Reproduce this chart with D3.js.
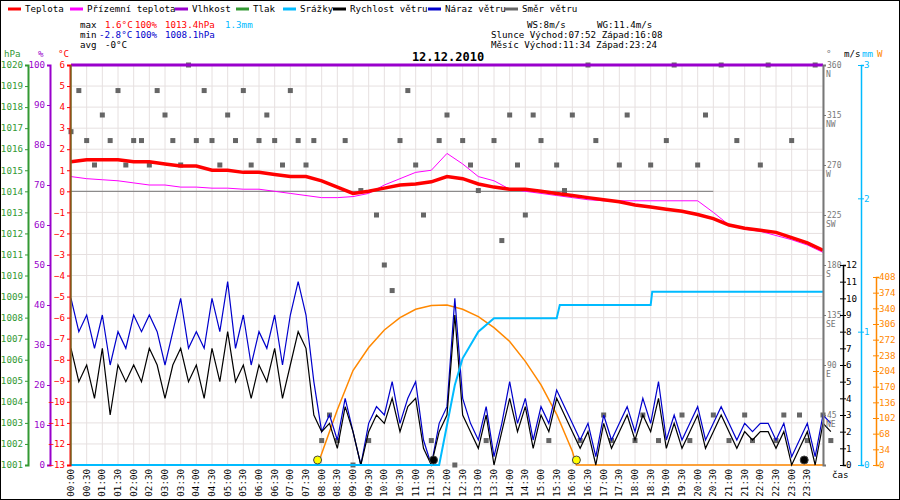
<!DOCTYPE html>
<html>
<head>
<script src="https://d3js.org/d3.v7.min.js"></script>
<style>
body{margin:0;background:#fff}
text{font-family:"DejaVu Sans Mono",monospace;font-size:9.2px}
.dl text,text.dl{font-size:8px}
</style>
</head>
<body>
<svg width="900" height="500"></svg>
<script>
// half-hourly temperatures (00:00 .. 24:00)
var temp = [1.4,1.5,1.5,1.5,1.4,1.4,1.3,1.2,1.2, 1.0,1.0,0.9,0.9,0.8,0.7,0.7,0.5,
  0.2,-0.1,0.0,0.15,0.3,0.35,0.45,0.7, 0.6,0.35,0.2,0.1,0.1,0.0,-0.1,-0.2,
  -0.3,-0.4,-0.5,-0.65,-0.75,-0.85,-0.95,-1.1, -1.3,-1.6,-1.75,-1.85,-1.95,-2.2,-2.45,-2.8];
var feels = [0.7,0.6,0.55,0.5,0.4,0.3,0.3,0.2,0.2, 0.15,0.15,0.1,0.1,0.0,-0.1,-0.2,-0.3,
  -0.3,-0.25,-0.1,0.3,0.6,0.9,1.0,1.8, 1.3,0.7,0.5,0.1,0.0,-0.1,-0.2,-0.3,
  -0.4,-0.45,-0.45,-0.45,-0.45,-0.45,-0.45,-0.45, -1.0,-1.6,-1.8,-1.9,-2.1,-2.3,-2.55,-2.9];
// quarter-hourly wind (m/s) and direction (deg)
var speed = [7,5,6,4,7,3,6,5,6, 5,7,6,4,6,7,5,6, 4,7,5,8,5,6,4,6, 5,7,4,6,8,7,3,2,
  2.5,1,3.5,2,0,2,3,2.5, 4,2,3.5,4,1,0,2,3, 9,3,2,1,3,0,2,4, 2,3.5,1,3,2,4,3,2,
  1,2,0,2.5,1,2,3,1.5, 3,2,4,1,2.5,1,2,3, 1,2,3,2,1,2,1.5,2, 2,1,2,0,1,2,0,2.5,2];
var gust = [10,8,9,7,9,6,8,7,9, 8,9,8,6,8,10,7,8, 7,10,8,11,7,9,6,8, 7,9,6,9,11,9,5,2,
  3,1.5,4,2,0,2.5,3.5,3, 5,2.5,4,5,1.5,0,2.5,3.5, 10,4,2.5,1.5,3.5,0.5,2.5,5,
  2.5,4,1.5,3.5,2.5,4.5,3.5,2.5, 1.5,2.5,0.5,3,1.5,2.5,3.5,2, 4,2.5,5,1.5,3,1.5,2.5,3.5,
  1.5,2.5,3.5,2.5,1.5,2.5,2,2.5, 2.5,1.5,2.5,0.5,1.5,2.5,0.5,3,2.5];
var dir = [300,337,292,270,315,292,337,270,292, 292,270,337,315,292,270,360,292,
  337,292,270,315,292,337,270,292, 315,292,270,337,292,270,292,22,
  45,22,292,0,247,22,225,180, 157,292,337,270,225,22,292,315,
  0,292,270,247,22,292,202,315, 270,225,315,292,22,270,247,315,
  22,360,292,45,22,270,315,22, 45,270,22,292,360,45,22,270,
  315,45,360,22,292,45,22,270, 360,22,45,292,45,22,360,45,22];
var rainT = [0,11.75,12,12.25,12.5,13,13.5,15.5,15.6,18.5,18.55,24];
var rainV = [0,0,0.3,0.6,0.8,1.0,1.1,1.1,1.2,1.2,1.3,1.3];
var solarT = [0,7.87,8.5,9,9.5,10,10.5,11,11.5,12,12.5,13,13.5,14,14.5,15,15.5,16,16.13,24];
var solarV = [0,0,120,205,255,293,320,338,346,347,338,322,298,268,225,174,110,30,0,0];
var dirTicks = [0,45,90,135,180,225,270,315,360];
var dirNames = ["","NE","E","SE","S","SW","W","NW","N"];
var legend = [["Teplota","#f00"],["Přízemní teplota","#f0f"],["Vlhkost","#90c"],["Tlak","#393"],
  ["Srážky","#0bf"],["Rychlost větru","#000"],["Náraz větru","#00c"],["Směr větru","#666"]];

var svg = d3.select("svg");
var L = 71, R = 823, T = 65, B = 465;
svg.append("rect").attr("x",0.5).attr("y",0.5).attr("width",899).attr("height",499).attr("fill","none").attr("stroke","#000");

var x = d3.scaleLinear().domain([0,24]).range([L,R]);
var yT = d3.scaleLinear().domain([-13,6]).range([B,T]);
var yP = d3.scaleLinear().domain([1001,1020]).range([B,T]);
var yH = d3.scaleLinear().domain([0,100]).range([B,T]);
var yD = d3.scaleLinear().domain([0,360]).range([B,T]);
var yW = d3.scaleLinear().domain([0,12]).range([B,B-200]);
var yR = d3.scaleLinear().domain([0,3]).range([B,T]);
var yS = d3.scaleLinear().domain([0,408]).range([B,B-188]);

// grid
var g = svg.append("g");
d3.range(0,24.01,0.5).forEach(function(h){
  g.append("line").attr("x1",x(h)).attr("x2",x(h)).attr("y1",T).attr("y2",B).attr("stroke","#e6e0e0");
});
d3.range(-13,6.1,1).forEach(function(t){
  g.append("line").attr("x1",L).attr("x2",R).attr("y1",yT(t)).attr("y2",yT(t)).attr("stroke","#e6e0e0");
});
g.append("line").attr("x1",L).attr("x2",x(20.5)).attr("y1",yT(0)).attr("y2",yT(0)).attr("stroke","#777");

var qt = function(i){return i*0.25;}, ht = function(i){return i*0.5;};

// wind direction squares
svg.selectAll(".dir").data(dir).enter().append("rect")
  .attr("x",function(d,i){return x(qt(i))-2.5;}).attr("y",function(d){return yD(d)-2.5;})
  .attr("width",5).attr("height",5).attr("fill","#666");

// humidity
svg.append("line").attr("x1",L).attr("x2",R).attr("y1",yH(100)).attr("y2",yH(100)).attr("stroke","#90c").attr("stroke-width",3);

// solar
svg.append("path").datum(solarT).attr("fill","none").attr("stroke","#f80").attr("stroke-width",1.5)
  .attr("d",d3.line().x(function(d){return x(d);}).y(function(d,i){return yS(solarV[i]);}));

// gust & speed
svg.append("path").datum(gust).attr("fill","none").attr("stroke","#00c").attr("stroke-width",1.2)
  .attr("d",d3.line().x(function(d,i){return x(qt(i));}).y(function(d){return yW(d);}));
svg.append("path").datum(speed).attr("fill","none").attr("stroke","#000").attr("stroke-width",1.2)
  .attr("d",d3.line().x(function(d,i){return x(qt(i));}).y(function(d){return yW(d);}));

// rain
svg.append("path").datum(rainT).attr("fill","none").attr("stroke","#0bf").attr("stroke-width",2)
  .attr("d",d3.line().x(function(d){return x(d);}).y(function(d,i){return yR(rainV[i]);}));

// temps
svg.append("path").datum(feels).attr("fill","none").attr("stroke","#f0f").attr("stroke-width",1)
  .attr("d",d3.line().x(function(d,i){return x(ht(i));}).y(function(d){return yT(d);}));
svg.append("path").datum(temp).attr("fill","none").attr("stroke","#f00").attr("stroke-width",3.5)
  .attr("d",d3.line().x(function(d,i){return x(ht(i));}).y(function(d){return yT(d);}));

// sun / moon
[[7.87,"#ff0"],[16.13,"#ff0"],[11.57,"#000"],[23.4,"#000"]].forEach(function(m){
  svg.append("circle").attr("cx",x(m[0])).attr("cy",B-5).attr("r",4).attr("fill",m[1]).attr("stroke","#444");
});

// left axes
function axisL(scale, xp, ticks, col){
  var a = svg.append("g").attr("transform","translate("+xp+",0)")
    .call(d3.axisLeft(scale).tickValues(ticks).tickSize(3).tickPadding(2).tickFormat(d3.format("d")));
  a.select(".domain").attr("stroke",col).attr("stroke-width",2);
  a.selectAll("line").attr("stroke",col);
  a.selectAll("text").attr("fill",col).attr("dy","0.3em");
  return a;
}
axisL(yP, 28, d3.range(1001,1021), "#393");
axisL(yH, 50, d3.range(0,101,10), "#90c");
axisL(yT, 70, d3.range(-13,7), "#f00");
svg.append("line").attr("x1",L).attr("x2",L).attr("y1",T).attr("y2",B).attr("stroke","#393");

// right axes
var ad = svg.append("g").attr("class","dl").attr("transform","translate("+R+",0)")
  .call(d3.axisRight(yD).tickValues(dirTicks.slice(1)).tickSize(3).tickPadding(1));
ad.select(".domain").attr("stroke","#777").attr("stroke-width",2);
ad.selectAll("line").attr("stroke","#777");
ad.selectAll("text").attr("fill","#777").attr("dy","0.3em");
dirTicks.forEach(function(d,i){
  if(i>0) svg.append("text").attr("class","dl").attr("x",R+3).attr("y",yD(d)+12).attr("fill","#777").text(dirNames[i]);
});
function axisR(scale, xp, ticks, col){
  var a = svg.append("g").attr("transform","translate("+xp+",0)")
    .call(d3.axisLeft(scale).tickValues(ticks).tickSize(-3).tickFormat(d3.format("d")));
  a.select(".domain").attr("stroke",col).attr("stroke-width",1.5);
  a.selectAll("line").attr("stroke",col).attr("x1",-3).attr("x2",3);
  a.selectAll("text").attr("fill",col).attr("text-anchor","start").attr("x",3).attr("dy","0.3em");
  return a;
}
axisR(yW, 843, d3.range(0,13), "#000");
axisR(yR, 861, [0,1,2,3], "#0bf");
axisR(yS, 876, d3.range(0,409,34), "#f80");

// unit labels
[["hPa",4,"#393"],["%",38,"#90c"],["°C",58,"#f00"],["°",826,"#777"],["m/s",844,"#000"],["mm",862,"#0bf"],["W",877,"#f80"]]
  .forEach(function(u){svg.append("text").attr("x",u[1]).attr("y",57).attr("fill",u[2]).text(u[0]);});

// x axis labels
d3.range(0,24,0.5).forEach(function(h){
  var lab = d3.format("02d")(Math.floor(h))+":"+(h%1?"30":"00");
  svg.append("text").attr("transform","translate("+(x(h)+3)+","+(B+4)+") rotate(-90)")
    .attr("text-anchor","end").text(lab);
});
svg.append("text").attr("x",832).attr("y",478).text("čas");

// title
svg.append("text").attr("x",448).attr("y",61).attr("text-anchor","middle")
  .style("font-size","12px").style("font-weight","bold").text("12.12.2010");

// legend
var lxs = [8,70,175,236,283,333,428,505];
legend.forEach(function(l,i){
  svg.append("line").attr("x1",lxs[i]).attr("x2",lxs[i]+13).attr("y1",9).attr("y2",9).attr("stroke",l[1]).attr("stroke-width",3);
  svg.append("text").attr("x",lxs[i]+17).attr("y",12).text(l[0]);
});

// info
var info = svg.append("g");
function tx(xx,yy,s,c){info.append("text").attr("x",xx).attr("y",yy).attr("fill",c||"#000").text(s);}
tx(80,28,"max"); tx(105,28,"1.6°C","#f00"); tx(135,28,"100%","#f00"); tx(165,28,"1013.4hPa","#f00"); tx(225,28,"1.3mm","#0bf");
tx(80,38,"min"); tx(99,38,"-2.8°C","#00c"); tx(135,38,"100%","#00c"); tx(165,38,"1008.1hPa","#00c");
tx(80,48,"avg"); tx(105,48,"-0°C");
tx(527,28,"WS:8m/s"); tx(597,28,"WG:11.4m/s");
tx(491,38,"Slunce Východ:07:52  Západ:16:08");
tx(491,48,"Měsíc  Východ:11:34  Západ:23:24");
</script>
</body>
</html>
